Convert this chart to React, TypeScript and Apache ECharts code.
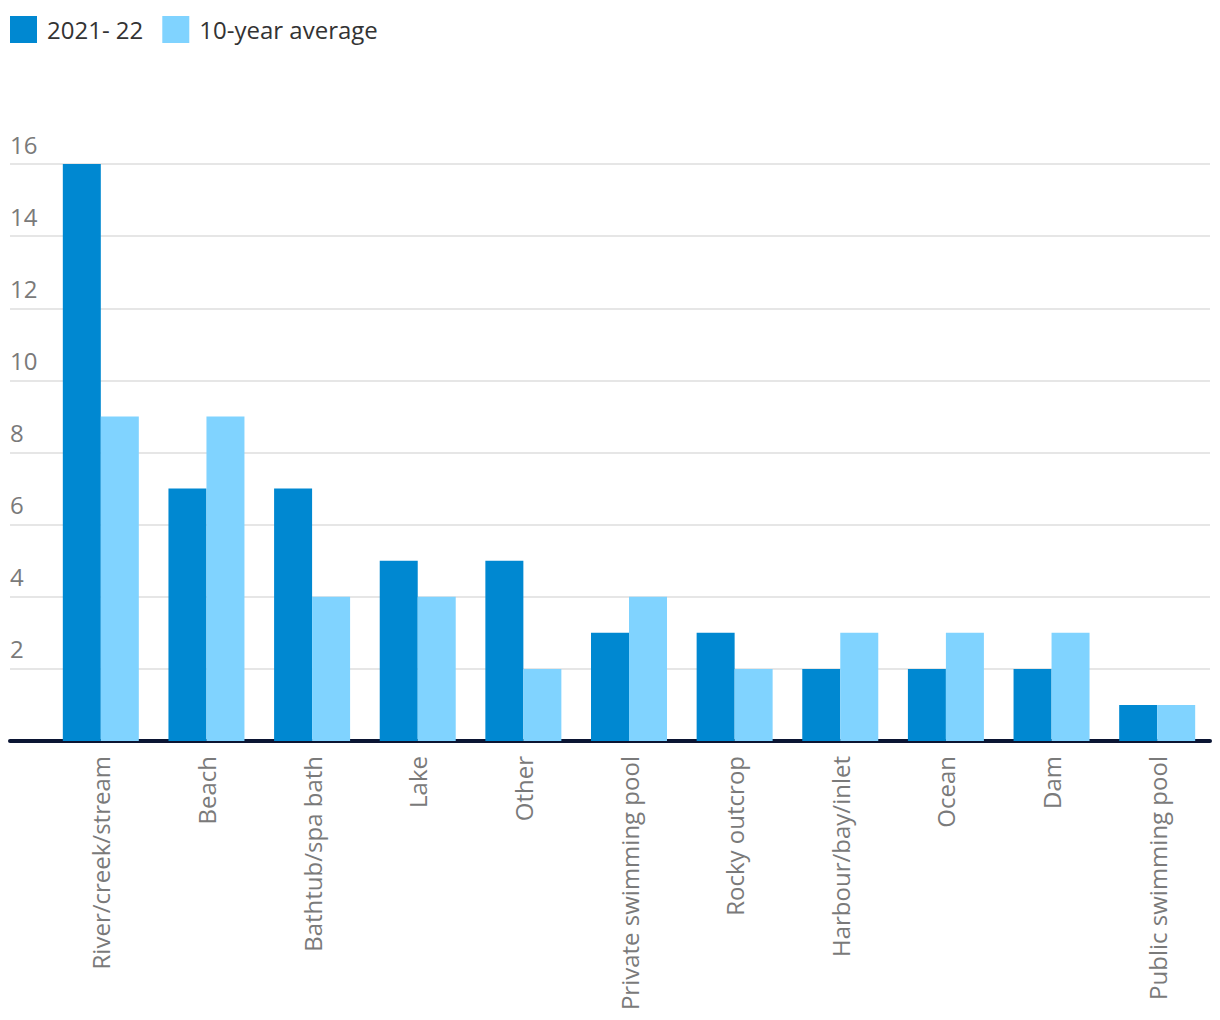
import React, { useEffect, useRef } from "react";
import * as echarts from "echarts";

const categories = [
  "River/creek/stream",
  "Beach",
  "Bathtub/spa bath",
  "Lake",
  "Other",
  "Private swimming pool",
  "Rocky outcrop",
  "Harbour/bay/inlet",
  "Ocean",
  "Dam",
  "Public swimming pool",
];
const current = [16, 7, 7, 5, 5, 3, 3, 2, 2, 2, 1];
const average = [9, 9, 4, 4, 2, 4, 2, 3, 3, 3, 1];
const seriesNames = ["2021- 22", "10-year average"];
const yMin = 0;
const yMax = 16;
const yInterval = 2;

const FONT = "Open Sans";

export default function App() {
  const ref = useRef<HTMLDivElement>(null);
  useEffect(() => {
    if (!ref.current) return;
    const chart = echarts.init(ref.current, undefined, { renderer: "svg" });
    chart.setOption({
      animation: false,
      textStyle: { fontFamily: FONT },
      legend: {
        left: 5,
        top: 11,
        itemWidth: 27,
        itemHeight: 27,
        itemGap: 19,
        icon: "rect",
        textStyle: { fontSize: 24, color: "#333", fontFamily: FONT, padding: [0, 0, 0, 5] },
        data: seriesNames,
      },
      grid: [
        { left: 10, right: 10, top: 164, bottom: 279, containLabel: false },
        { left: 48, right: 10, top: 164, bottom: 279, containLabel: false },
      ],
      xAxis: [
        {
          type: "value",
          gridIndex: 0,
          min: 0,
          max: 1,
          axisLabel: { show: false },
          axisTick: { show: false },
          splitLine: { show: false },
          axisLine: { show: true, lineStyle: { color: "#0b1533", width: 4 } },
        },
        {
          type: "category",
          gridIndex: 1,
          data: categories,
          axisLine: { show: false },
          axisTick: { show: false },
          axisLabel: {
            rotate: 90,
            margin: 15,
            fontSize: 24,
            color: "#7a7a7a",
            fontFamily: FONT,
          },
        },
      ],
      yAxis: [
        {
          type: "value",
          gridIndex: 0,
          min: yMin,
          max: yMax,
          interval: yInterval,
          axisLine: { show: false },
          axisTick: { show: false },
          splitLine: { show: true, lineStyle: { color: "#e6e6e6", width: 2 } },
          axisLabel: {
            inside: true,
            margin: 0,
            showMinLabel: false,
            verticalAlign: "bottom",
            padding: [0, 0, 8, 0],
            fontSize: 24,
            color: "#7a7a7a",
            fontFamily: FONT,
          },
        },
        {
          type: "value",
          gridIndex: 1,
          min: yMin,
          max: yMax,
          interval: yInterval,
          show: false,
          splitLine: { show: false },
        },
      ],
      series: [
        {
          name: seriesNames[0],
          type: "bar",
          xAxisIndex: 1,
          yAxisIndex: 1,
          data: current,
          barWidth: 38,
          barGap: "0%",
          itemStyle: { color: "#0088d1" },
        },
        {
          name: seriesNames[1],
          type: "bar",
          xAxisIndex: 1,
          yAxisIndex: 1,
          data: average,
          barWidth: 38,
          barGap: "0%",
          itemStyle: { color: "#80d3ff" },
        },
      ],
    });
    return () => chart.dispose();
  }, []);
  return (
    <div
      ref={ref}
      style={{ position: "absolute", left: 0, top: 0, width: 1220, height: 1020 }}
    />
  );
}
